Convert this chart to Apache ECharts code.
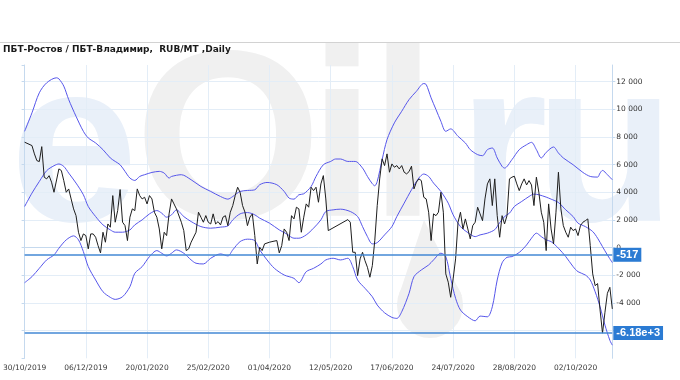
<!DOCTYPE html>
<html>
<head>
<meta charset="utf-8">
<script src="https://cdn.jsdelivr.net/npm/echarts@6/dist/echarts.min.js"></script>
<style>
html,body{margin:0;padding:0;background:#fff;}
#chart{width:680px;height:380px;}
</style>
</head>
<body>
<div id="chart"></div>
<script>
// ---- data ----
const chartTitle = 'ПБТ-Ростов / ПБТ-Владимир,  RUB/MT ,Daily';
const firstDay = '2019-10-30';
const dayCount = 241;
const noTradeDays = ['2019-11-04','2019-11-05','2020-01-01','2020-01-02','2020-01-03','2020-01-06','2020-01-07','2020-01-08','2020-02-24','2020-03-09','2020-05-01','2020-05-04','2020-05-05','2020-05-11','2020-06-12','2020-06-24','2020-07-01'];

// price spread: [trading-day index, value]
const price = [[0,7620],[3,7375],[4,6775],[5,6290],[6,6220],[7,7300],[8,5090],[9,4970],[10,5200],[11,4730],[12,4000],[14,5690],[15,5570],[16,4840],[17,4000],[18,4240],[19,3520],[20,2800],[21,2310],[22,1110],[23,510],[24,990],[25,870],[26,-90],[27,990],[28,990],[29,750],[30,145],[31,-380],[32,1110],[33,390],[34,1710],[35,1475],[36,3760],[37,1835],[38,2675],[39,4195],[40,1835],[41,1590],[42,510],[43,2200],[44,2800],[45,2675],[46,4245],[47,3760],[48,3520],[49,3640],[50,3160],[51,3760],[52,3520],[53,2560],[54,2200],[55,1350],[56,-90],[57,1110],[58,870],[59,2440],[60,3520],[61,3160],[62,2800],[64,1835],[65,1230],[66,-215],[67,-90],[68,390],[70,1110],[71,2560],[72,2200],[73,1835],[74,2315],[75,1835],[76,1710],[77,2440],[78,1710],[79,1880],[80,1640],[81,2200],[82,2310],[83,1590],[84,2560],[85,3040],[86,3760],[87,4365],[88,4000],[89,3040],[90,2560],[91,1590],[92,2200],[93,2440],[94,870],[95,-1180],[96,30],[97,-215],[98,270],[100,390],[101,435],[103,510],[104,-380],[105,145],[106,1350],[107,1110],[108,510],[109,2310],[110,2075],[111,2920],[112,2800],[113,1110],[114,2200],[115,3160],[116,2920],[117,4365],[118,4120],[119,4365],[120,3280],[121,4605],[122,5205],[123,3520],[124,1230],[132,2025],[133,1835],[134,-335],[135,-335],[136,-2025],[137,-815],[138,-335],[139,-940],[140,-1420],[141,-2140],[142,-1300],[143,510],[144,3040],[145,4970],[146,6415],[147,5930],[148,6775],[149,5450],[150,6050],[151,5810],[152,5930],[153,5690],[154,5930],[155,5450],[156,5330],[157,5495],[158,5885],[159,4245],[160,4730],[161,4970],[162,4845],[163,3640],[164,3520],[165,2560],[166,510],[167,2440],[168,2310],[169,2560],[170,4000],[171,2560],[172,-1900],[173,-2500],[174,-3590],[175,-2260],[176,-815],[177,1835],[178,2560],[179,1350],[180,2075],[181,1350],[182,630],[183,1590],[184,1835],[185,2920],[186,2440],[187,1950],[188,3520],[189,4605],[190,4970],[191,3040],[192,4970],[193,2310],[194,750],[195,2310],[196,1710],[197,2310],[198,4970],[199,5090],[200,5160],[201,4605],[202,4120],[203,4605],[204,4970],[205,4530],[206,4845],[207,4530],[208,3040],[209,5090],[210,4000],[211,2560],[212,1835],[213,-215],[214,3160],[215,1350],[216,270],[217,2560],[218,5450],[219,2800],[220,1590],[221,1110],[222,750],[223,1475],[224,1230],[225,1350],[226,870],[227,1590],[228,1835],[229,1950],[230,2075],[231,145],[232,-1900],[233,-2750],[234,-2600],[235,-4500],[236,-6180],[237,-4670],[238,-3300],[239,-2870],[240,-4430]];

const upperBand = [[0,8405],[3,9740],[6,11190],[9,11910],[13,12275],[14,12200],[16,11670],[18,10700],[21,9490],[24,8405],[26,7925],[29,7565],[32,7080],[35,6480],[37,6230],[39,5990],[41,5510],[43,5030],[45,4855],[47,5145],[49,5270],[52,5435],[55,5510],[57,5390],[59,5030],[60,5145],[64,5270],[68,4905],[72,4420],[76,4060],[80,3695],[83,3505],[85,3695],[88,4060],[91,4130],[94,4180],[96,4545],[99,4710],[103,4545],[106,4060],[108,3580],[110,3505],[112,3820],[114,3890],[117,4420],[119,5145],[122,5990],[125,6230],[127,6405],[129,6405],[132,6230],[135,6230],[138,5750],[140,5145],[142,4615],[143,4470],[144,4780],[146,6355],[148,7805],[151,9015],[154,9855],[157,10700],[160,11300],[163,11860],[164,11790],[166,10825],[168,9980],[170,9130],[172,8405],[174,8580],[177,8045],[180,7565],[182,7080],[185,6720],[187,6645],[189,7080],[191,7200],[193,6480],[195,5870],[196,5750],[199,6355],[202,7080],[205,7440],[207,7610],[209,7080],[211,6480],[213,6885],[216,7275],[218,6840],[220,6480],[224,5990],[228,5435],[231,5145],[234,5100],[235,5390],[236,5580],[238,5270],[240,4905]];

const middleBand = [[0,2970],[3,3940],[6,4780],[9,5560],[12,5920],[14,6045],[16,5870],[18,5390],[21,4665],[24,3820],[26,2970],[29,2245],[32,1645],[35,1280],[37,1115],[40,1115],[43,1280],[45,1645],[48,2005],[51,2440],[54,2680],[56,2490],[58,2200],[60,2370],[62,2730],[65,2245],[68,1885],[72,1520],[76,1405],[80,1480],[83,1570],[85,2005],[88,2440],[91,2535],[94,2370],[96,2130],[100,1770],[104,1280],[107,995],[110,680],[112,680],[115,920],[118,1405],[121,2005],[123,2610],[126,2730],[129,2780],[133,2610],[136,2245],[138,1520],[140,795],[142,270],[144,360],[147,920],[150,1520],[152,2245],[155,3215],[158,4180],[161,5030],[163,5320],[165,5145],[167,4665],[170,4060],[173,3215],[175,2370],[178,1520],[181,1085],[184,795],[186,920],[189,1045],[192,1300],[194,1800],[196,2245],[198,2490],[200,2970],[203,3335],[206,3695],[208,3870],[210,3820],[213,3650],[215,3505],[218,3260],[221,2730],[224,2245],[226,1770],[229,1520],[232,1160],[234,680],[236,70],[238,-530],[240,-1085]];

const lowerBand = [[0,-2535],[3,-2100],[6,-1495],[9,-890],[12,-530],[14,-45],[17,560],[20,850],[22,560],[24,-290],[26,-1375],[29,-2340],[32,-3190],[35,-3595],[37,-3740],[40,-3550],[43,-2825],[45,-1855],[48,-1375],[51,-650],[54,-215],[56,-405],[58,-600],[60,-405],[62,-165],[65,-405],[68,-890],[70,-1130],[73,-1180],[76,-770],[80,-455],[83,-600],[85,-165],[88,435],[91,610],[94,505],[96,-165],[99,-890],[102,-1495],[106,-1980],[110,-2220],[112,-2535],[115,-1740],[118,-1495],[121,-1180],[123,-890],[126,-770],[129,-890],[132,-770],[134,-1375],[136,-2340],[139,-2940],[142,-3550],[144,-4150],[147,-4710],[150,-5045],[152,-5115],[154,-4640],[157,-3305],[159,-2100],[162,-1615],[165,-1255],[167,-890],[170,-405],[172,-650],[174,-2220],[176,-3665],[178,-4515],[181,-5000],[184,-5290],[186,-4950],[189,-5000],[191,-4275],[193,-2340],[195,-1100],[197,-700],[199,-650],[202,-350],[205,195],[207,680],[209,1045],[211,795],[213,560],[215,435],[218,-45],[221,-650],[224,-1375],[226,-1740],[229,-1980],[231,-2340],[233,-3190],[235,-4275],[237,-5600],[239,-6700],[240,-7050]];

const markerValues = [-517, -6180];
const markerLabels = ['-517', '-6.18e+3'];
const yMin = -8000, yMax = 13200, yStep = 2000;
const labelEvery = 25;

// ---- categories: trading days ----
function buildDays() {
  const out = [];
  const skip = new Set(noTradeDays);
  let d = new Date(firstDay + 'T00:00:00Z');
  while (out.length < dayCount) {
    const wd = d.getUTCDay();
    const iso = d.toISOString().slice(0, 10);
    if (wd !== 0 && wd !== 6 && !skip.has(iso)) {
      out.push(iso.slice(8, 10) + '/' + iso.slice(5, 7) + '/' + iso.slice(0, 4));
    }
    d = new Date(d.getTime() + 86400000);
  }
  return out;
}
const categories = buildDays();

function fmtNum(v) {
  const s = Math.abs(v).toString().replace(/\B(?=(\d{3})+(?!\d))/g, ' ');
  return (v < 0 ? '-' : '') + s;
}

const FONT = 'DejaVu Sans';
const bandColor = '#5656ea';
const gridColor = '#e3edf7';
const axisColor = '#c5d9ee';
const wmBlue = '#e9f0f9';
const wmGray = '#f0f0f0';

const chart = echarts.init(document.getElementById('chart'), null, {renderer: 'canvas'});
chart.setOption({
  animation: false,
  backgroundColor: '#ffffff',
  textStyle: {fontFamily: FONT},
  graphic: [
    {type: 'line', z: 1, shape: {x1: 0, y1: 42.5, x2: 680, y2: 42.5}, style: {stroke: '#d2d2d2', lineWidth: 1}},
    {type: 'text', z: 1, left: 3, top: 45.5, style: {text: chartTitle, font: 'bold 9px "DejaVu Sans"', fill: '#1a1a1a'}},
    {type: 'text', z: -10, silent: true, x: 74, y: 158, style: {text: 'e', font: 'bold 230px "Liberation Sans"', fill: wmBlue, align: 'center', verticalAlign: 'middle'}},
    {type: 'text', z: -10, silent: true, x: 228, y: 152, style: {text: 'O', font: 'bold 240px "Liberation Sans"', fill: wmGray, align: 'center', verticalAlign: 'middle'}},
    {type: 'text', z: -10, silent: true, x: 342, y: 150, style: {text: 'i', font: 'bold 240px "Liberation Sans"', fill: wmGray, align: 'center', verticalAlign: 'middle'}},
    {type: 'text', z: -10, silent: true, x: 403, y: 150, style: {text: 'l', font: 'bold 240px "Liberation Sans"', fill: wmGray, align: 'center', verticalAlign: 'middle'}},
    {type: 'circle', z: -10, silent: true, shape: {cx: 430, cy: 305, r: 33}, style: {fill: wmGray}},
    {type: 'polygon', z: -10, silent: true, shape: {points: [[424, 220], [398, 298], [462, 296]]}, style: {fill: wmGray}},
    {type: 'text', z: -10, silent: true, x: 503, y: 158, style: {text: 'r', font: 'bold 230px "Liberation Sans"', fill: wmBlue, align: 'center', verticalAlign: 'middle'}},
    {type: 'text', z: -10, silent: true, x: 605, y: 158, style: {text: 'u', font: 'bold 230px "Liberation Sans"', fill: wmBlue, align: 'center', verticalAlign: 'middle'}}
  ],
  grid: {left: 21.7, right: 67.7, top: 65, bottom: 21.7, containLabel: false},
  xAxis: {
    type: 'category',
    data: categories,
    boundaryGap: false,
    axisLine: {show: true, lineStyle: {color: axisColor}},
    axisTick: {show: false},
    axisLabel: {interval: labelEvery - 1, color: '#3a3a3a', fontSize: 7.5, fontFamily: FONT, margin: 6},
    splitLine: {show: true, interval: labelEvery - 1, lineStyle: {color: gridColor, width: 1}}
  },
  yAxis: [
    {
      type: 'value', position: 'right', min: yMin, max: yMax, interval: yStep,
      axisLine: {show: true, lineStyle: {color: axisColor}},
      axisTick: {show: true, length: 3, lineStyle: {color: axisColor}},
      axisLabel: {color: '#333', fontSize: 7.5, fontFamily: FONT, margin: 4, showMinLabel: false, showMaxLabel: false, formatter: fmtNum},
      splitLine: {show: true, showMinLine: false, showMaxLine: false, lineStyle: {color: gridColor, width: 1}}
    },
    {
      type: 'value', position: 'left', min: yMin, max: yMax, interval: yStep,
      axisLine: {show: true, lineStyle: {color: axisColor}},
      axisTick: {show: true, length: 3, lineStyle: {color: axisColor}},
      axisLabel: {show: false},
      splitLine: {show: false}
    }
  ],
  series: [
    {name: 'upper', type: 'line', data: upperBand, showSymbol: false, smooth: 0.3, lineStyle: {color: bandColor, width: 1}, z: 3},
    {name: 'middle', type: 'line', data: middleBand, showSymbol: false, smooth: 0.3, lineStyle: {color: bandColor, width: 1}, z: 3},
    {name: 'lower', type: 'line', data: lowerBand, showSymbol: false, smooth: 0.3, lineStyle: {color: bandColor, width: 1}, z: 3},
    {
      name: 'price', type: 'line', data: price, showSymbol: false, lineStyle: {color: '#1e1e1e', width: 1}, z: 4,
      markLine: {
        symbol: 'none', silent: true,
        lineStyle: {color: '#4389d4', width: 1.5, type: 'solid'},
        label: {position: 'end', distance: 1, backgroundColor: '#2b7bd3', color: '#ffffff', fontWeight: 'bold', fontSize: 11, fontFamily: 'Liberation Sans', padding: [2, 3, 1, 3]},
        data: markerValues.map((v, i) => ({yAxis: v, label: {formatter: markerLabels[i]}}))
      }
    }
  ]
});
</script>
</body>
</html>
